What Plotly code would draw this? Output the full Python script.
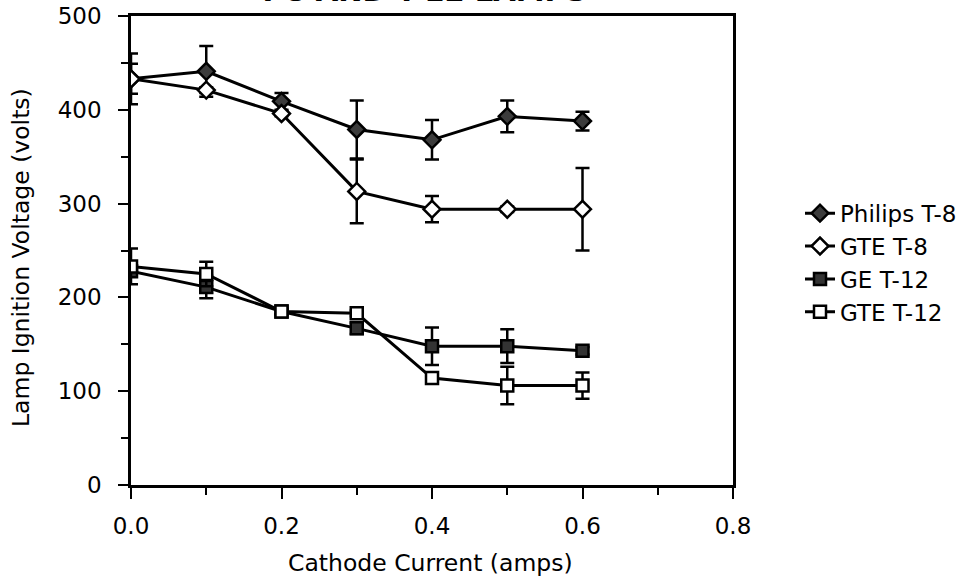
import plotly.graph_objects as go

current = [0.0, 0.1, 0.2, 0.3, 0.4, 0.5, 0.6]

philips_t8 = [433, 441, 409, 379, 368, 393, 388]
philips_t8_err = [27, 27, 9, 31, 21, 17, 10]

gte_t8 = [433, 421, 396, 313, 294, 294, 294]
gte_t8_err = [16, 3, 3, 34, 14, 3, 44]

ge_t12 = [228, 211, 185, 167, 148, 148, 143]
ge_t12_err = [6, 12, 3, 6, 20, 18, 4]

gte_t12 = [233, 225, 185, 183, 114, 106, 106]
gte_t12_err = [19, 13, 3, 3, 3, 20, 14]

x_ticks = [0.0, 0.2, 0.4, 0.6, 0.8]
x_tick_labels = ["0.0", "0.2", "0.4", "0.6", "0.8"]
y_ticks = [0, 100, 200, 300, 400, 500]

FONT = "DejaVu Sans, Liberation Sans, Arial, sans-serif"

series = [
    ("Philips T-8", philips_t8, philips_t8_err, "diamond", "#3c3c3c", 13),
    ("GTE T-8", gte_t8, gte_t8_err, "diamond", "white", 13),
    ("GE T-12", ge_t12, ge_t12_err, "square", "#333333", 12),
    ("GTE T-12", gte_t12, gte_t12_err, "square", "white", 12),
]

fig = go.Figure()
for name, y, err, sym, fill, size in series:
    fig.add_trace(go.Scatter(
        x=current, y=y, name=name, mode="lines+markers",
        line=dict(color="black", width=3),
        marker=dict(symbol=sym, size=size, color=fill, line=dict(color="black", width=2.5)),
        error_y=dict(type="data", array=err, visible=True, color="black", thickness=2.5, width=7),
    ))

fig.update_layout(
    width=964, height=578,
    margin=dict(l=131, r=231, t=16, b=93, autoexpand=False),
    plot_bgcolor="white", paper_bgcolor="white",
    font=dict(family=FONT, color="black", size=23),
    showlegend=True,
    legend=dict(x=(800 - 131) / 602, y=0.474, xanchor="left", yanchor="middle",
                font=dict(size=23, family=FONT), tracegroupgap=0,
                bgcolor="rgba(0,0,0,0)"),
    xaxis=dict(range=[0, 0.8], tickvals=x_ticks, ticktext=x_tick_labels,
               ticks="outside", ticklen=11, tickwidth=2, tickcolor="black",
               ticklabelstandoff=8,
               minor=dict(tickvals=[0.1, 0.3, 0.5, 0.7], ticks="outside", ticklen=7, tickwidth=2, tickcolor="black"),
               showline=True, linecolor="black", linewidth=2.5, mirror=True,
               showgrid=False, zeroline=False, tickfont=dict(size=23)),
    yaxis=dict(range=[0, 500], tickvals=y_ticks,
               ticks="outside", ticklen=10, tickwidth=2, tickcolor="black",
               ticklabelstandoff=12,
               minor=dict(tickvals=[50, 150, 250, 350, 450], ticks="outside", ticklen=7, tickwidth=2, tickcolor="black"),
               showline=True, linecolor="black", linewidth=2.5, mirror=True,
               showgrid=False, zeroline=False, tickfont=dict(size=23)),
    annotations=[
        dict(text="<b>T-8 AND T-12 LAMPS</b>", xref="paper", yref="paper",
             x=(422 - 131) / 602, y=(485 + 9) / 469, xanchor="center", yanchor="middle",
             showarrow=False, font=dict(size=29, family=FONT)),
        dict(text="Cathode Current (amps)", xref="paper", yref="paper",
             x=(430 - 131) / 602, y=(485 - 563) / 469, xanchor="center", yanchor="middle",
             showarrow=False, font=dict(size=23.5, family=FONT)),
        dict(text="Lamp Ignition Voltage (volts)", xref="paper", yref="paper",
             x=(21 - 131) / 602, y=(485 - 258) / 469, xanchor="center", yanchor="middle",
             textangle=-90, showarrow=False, font=dict(size=23.5, family=FONT)),
    ],
)

fig.write_html("out.html", config={"displayModeBar": False},
               post_script="document.body.style.margin='0';document.body.style.padding='0';")
